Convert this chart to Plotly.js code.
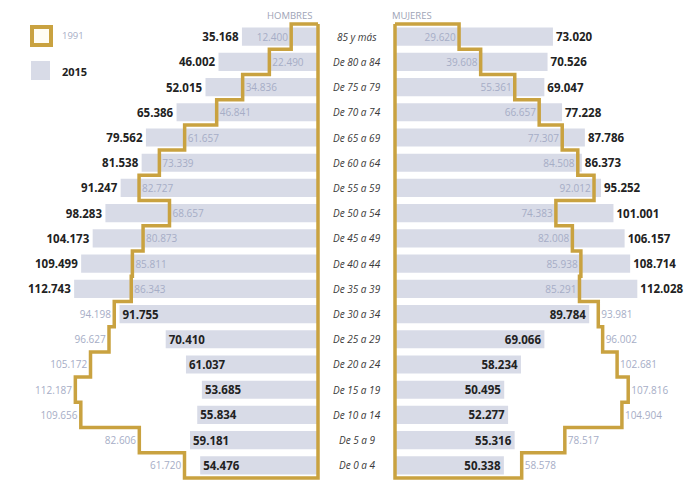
<!DOCTYPE html>
<html>
<head>
<meta charset="utf-8">
<script src="https://cdn.plot.ly/plotly-3.0.1.min.js"></script>
<style>
  html, body { margin: 0; padding: 0; background: #ffffff; }
  #chart { width: 689px; height: 482px; }
</style>
</head>
<body>
<div id="chart"></div>
<script>
// Grupos de edad, de arriba abajo
const ages = ['85 y más', 'De 80 a 84', 'De 75 a 79', 'De 70 a 74', 'De 65 a 69', 'De 60 a 64',
  'De 55 a 59', 'De 50 a 54', 'De 45 a 49', 'De 40 a 44', 'De 35 a 39', 'De 30 a 34',
  'De 25 a 29', 'De 20 a 24', 'De 15 a 19', 'De 10 a 14', 'De 5 a 9', 'De 0 a 4'];

const hombres2015 = [35168, 46002, 52015, 65386, 79562, 81538, 91247, 98283, 104173, 109499,
  112743, 91755, 70410, 61037, 53685, 55834, 59181, 54476];
const hombres1991 = [12400, 22490, 34836, 46841, 61657, 73339, 82727, 68657, 80873, 85811,
  86343, 94198, 96627, 105172, 112187, 109656, 82606, 61720];
const mujeres2015 = [73020, 70526, 69047, 77228, 87786, 86373, 95252, 101001, 106157, 108714,
  112028, 89784, 69066, 58234, 50495, 52277, 55316, 50338];
const mujeres1991 = [29620, 39608, 55361, 66657, 77307, 84508, 92012, 74383, 82008, 85938,
  85291, 93981, 96002, 102681, 107816, 104904, 78517, 58578];

const sexLabels = ['HOMBRES', 'MUJERES'];
const yearLabels = ['1991', '2015'];

const W = 689, H = 482;
const M = { l: 0, r: 0, t: 21, b: 1 };
const PLOT_H = H - M.t - M.b;

const BAR = '#d8dbe7';
const GOLD = '#c9a240';
const DARK = '#222222';
const SOFT = '#a6adc6';
const FONT = 'Open Sans, Lato, sans-serif';

const rows = ages.map((_, i) => i);

// pixel -> paper helpers for the legend and headers
const px = x => x / W;
const py = y => 1 - (y - M.t) / PLOT_H;

// thousands with a dot separator
const fmt = n => String(n).replace(/\B(?=(\d{3})+(?!\d))/g, '.');

// step outline of the 1991 pyramid, closed against the centre axis
function outline(vals) {
  const xs = [0], ys = [-0.5];
  vals.forEach((v, i) => {
    xs.push(v, v);
    ys.push(i - 0.5, i + 0.5);
  });
  xs.push(0, 0);
  ys.push(vals.length - 0.5, -0.5);
  return { xs, ys };
}

function sideTraces(v2015, v1991, xa) {
  const out = [];
  // 2015 bars with bold labels
  out.push({
    type: 'bar', orientation: 'h', xaxis: xa, yaxis: 'y',
    x: v2015, y: rows, width: 0.72,
    marker: { color: BAR },
    text: v2015.map(fmt),
    textposition: v2015.map((v, i) => v > v1991[i] ? 'outside' : 'inside'),
    insidetextanchor: 'end',
    textangle: 0,
    constraintext: 'none',
    cliponaxis: false,
    textfont: { family: FONT, size: 11.5, color: DARK, weight: 700 },
    insidetextfont: { family: FONT, size: 11.5, color: DARK, weight: 700 },
    outsidetextfont: { family: FONT, size: 11.5, color: DARK, weight: 700 },
    hoverinfo: 'skip', showlegend: false
  });
  // 1991 values: transparent bars carrying the grey labels
  out.push({
    type: 'bar', orientation: 'h', xaxis: xa, yaxis: 'y',
    x: v1991, y: rows, width: 0.72,
    marker: { color: 'rgba(0,0,0,0)' },
    text: v1991.map(fmt),
    textposition: v1991.map((v, i) => v > v2015[i] ? 'outside' : 'auto'),
    insidetextanchor: 'end',
    textangle: 0,
    constraintext: 'none',
    cliponaxis: false,
    textfont: { family: FONT, size: 10, color: SOFT },
    insidetextfont: { family: FONT, size: 10, color: SOFT },
    outsidetextfont: { family: FONT, size: 10, color: SOFT },
    hoverinfo: 'skip', showlegend: false
  });
  const o = outline(v1991);
  out.push({
    type: 'scatter', mode: 'lines', xaxis: xa, yaxis: 'y',
    x: o.xs, y: o.ys,
    line: { color: GOLD, width: 3.5 },
    hoverinfo: 'skip', showlegend: false
  });
  return out;
}

const data = [
  ...sideTraces(hombres2015, hombres1991, 'x'),
  ...sideTraces(mujeres2015, mujeres1991, 'x2')
];

const SCALE = 0.002163; // px per person
const axisBase = { showgrid: false, zeroline: false, showticklabels: false, ticks: '', showline: false, fixedrange: true };

const annotations = ages.map((a, i) => ({
  xref: 'paper', yref: 'y', x: px(357), y: i,
  text: a, showarrow: false, xanchor: 'center', yanchor: 'middle',
  font: { family: FONT, size: 10, color: '#3a3a3a', style: 'italic' }
}));

annotations.push(
  { xref: 'paper', yref: 'paper', x: px(314), y: py(15), text: sexLabels[0], showarrow: false,
    xanchor: 'right', yanchor: 'middle', font: { family: FONT, size: 9.5, color: '#9ea4b6' } },
  { xref: 'paper', yref: 'paper', x: px(390), y: py(15), text: sexLabels[1], showarrow: false,
    xanchor: 'left', yanchor: 'middle', font: { family: FONT, size: 9.5, color: '#9ea4b6' } },
  { xref: 'paper', yref: 'paper', x: px(60), y: py(35), text: yearLabels[0], showarrow: false,
    xanchor: 'left', yanchor: 'middle', font: { family: FONT, size: 9.5, color: SOFT } },
  { xref: 'paper', yref: 'paper', x: px(60), y: py(71), text: yearLabels[1], showarrow: false,
    xanchor: 'left', yanchor: 'middle', font: { family: FONT, size: 11, color: DARK, weight: 700 } }
);

const shapes = [
  { type: 'rect', xref: 'paper', yref: 'paper', x0: px(32), x1: px(51), y0: py(27), y1: py(45),
    line: { color: GOLD, width: 4 }, fillcolor: '#fffdf4' },
  { type: 'rect', xref: 'paper', yref: 'paper', x0: px(31), x1: px(50), y0: py(61), y1: py(80),
    line: { width: 0 }, fillcolor: BAR }
];

const layout = {
  width: W, height: H,
  margin: M,
  paper_bgcolor: '#ffffff', plot_bgcolor: 'rgba(0,0,0,0)',
  barmode: 'overlay',
  showlegend: false,
  xaxis: Object.assign({}, axisBase, {
    domain: [0, 320 / W], anchor: 'y',
    range: [318 / SCALE, -2 / SCALE]
  }),
  xaxis2: Object.assign({}, axisBase, {
    domain: [393 / W, 1], anchor: 'y',
    range: [-2 / SCALE, (W - 395) / SCALE]
  }),
  yaxis: Object.assign({}, axisBase, { range: [17.62, -0.62] }),
  annotations, shapes
};

Plotly.newPlot('chart', data, layout, { displayModeBar: false, staticPlot: true });
</script>
</body>
</html>
